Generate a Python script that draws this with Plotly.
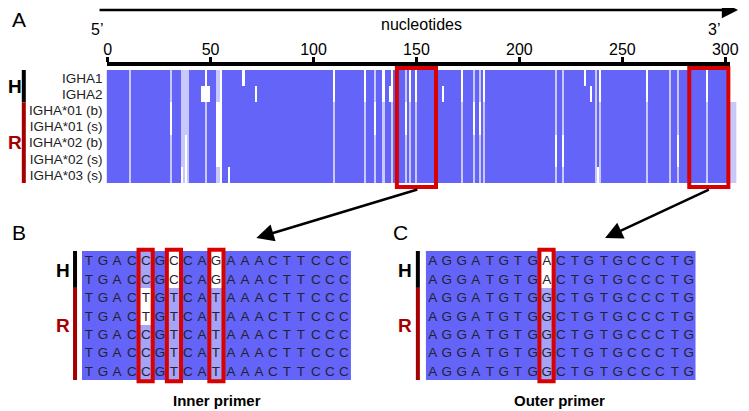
import plotly.graph_objects as go

# ---- data -----------------------------------------------------------------
seq_names = ["IGHA1", "IGHA2", "IGHA*01 (b)", "IGHA*01 (s)",
             "IGHA*02 (b)", "IGHA*02 (s)", "IGHA*03 (s)"]
groups = ["H", "H", "R", "R", "R", "R", "R"]
n_sites = 306

# variable sites: position, state per sequence (0 same, 1 partial, 2 different)
var_pos = [11, 31, 36, 37, 38, 39, 46, 47, 48, 49, 53, 54, 55, 59, 66, 72,
           110, 125, 130, 134, 137, 138, 145, 147, 150, 163, 172, 178, 181,
           183, 218, 221, 232, 235, 237, 238, 239, 262, 273, 277, 291,
           303, 304, 305]
var_state = ["1111111", "1122111", "1111112", "1111111", "1111222", "1111111",
             "0200000", "0200000", "2211111", "0200000", "1122221", "1122221",
             "2222222", "0000002", "2000000", "0200000",
             "2211111", "2211111", "1122111", "2211111", "0200000", "2211111",
             "1122111", "2211111", "2211111", "0200000", "2211111", "1122111",
             "1122111", "2211111", "1111221", "1111221", "2000000", "0200000",
             "1111111", "0000002", "2211111", "2211111", "1111111", "1111221",
             "2211111", "2211111", "2211111", "2211111"]

ruler_ticks = [0, 50, 100, 150, 200, 250, 300]

inner_start = 141
outer_start = 283
inner_seqs = ["TGACCGCCAGAAACTTCCC", "TGACCGCCAGAAACTTCCC",
              "TGACTGTCATAAACTTCCC", "TGACTGTCATAAACTTCCC",
              "TGACCGTCATAAACTTCCC", "TGACCGTCATAAACTTCCC",
              "TGACCGTCATAAACTTCCC"]
outer_seqs = ["AGGATGTGACTGTGCCCTG", "AGGATGTGACTGTGCCCTG",
              "AGGATGTGGCTGTGCCCTG", "AGGATGTGGCTGTGCCCTG",
              "AGGATGTGGCTGTGCCCTG", "AGGATGTGGCTGTGCCCTG",
              "AGGATGTGGCTGTGCCCTG"]

# ---- helpers --------------------------------------------------------------
W, H = 749, 411
OFF = 8                      # page body margin
FW, FH = W - OFF, H - OFF
NT = 2.09                    # pixels per nucleotide in panel A
A_LEFT = 105


def px(x):
    return (x - OFF) / FW


def py(y):
    return 1 - (y - OFF) / FH


def nt_px(n):
    return A_LEFT + (n + 0.5) * NT


BLUE = "#6464f9"
RED = "#d90000"
DARKRED = "#a50000"
FONT = "Arial, Liberation Sans, sans-serif"

z_a = [[0] * n_sites for _ in seq_names]
for p, s in zip(var_pos, var_state):
    for r, ch in enumerate(s):
        z_a[r][p] = int(ch)


def scale(light):
    return [[0, BLUE], [0.333, BLUE], [0.333, light], [0.667, light],
            [0.667, "white"], [1, "white"]]


def window(start, seqs):
    z = [[z_a[r][start + c] for c in range(len(seqs[0]))] for r in range(len(seqs))]
    text = [list(s) for s in seqs]
    cols = [c for c in range(len(seqs[0])) if any(z[r][c] for r in range(len(seqs)))]
    return z, text, cols


z_b, t_b, cols_b = window(inner_start, inner_seqs)
z_c, t_c, cols_c = window(outer_start, outer_seqs)

fig = go.Figure()
fig.add_trace(go.Heatmap(z=z_a, x=list(range(n_sites)), y=list(range(len(seq_names))),
                         zmin=0, zmax=2, colorscale=scale("#c8c8fa"),
                         showscale=False, hoverinfo="skip", xaxis="x", yaxis="y"))
fig.add_trace(go.Scatter(x=[ruler_ticks[0], ruler_ticks[-1]], y=[0, 0], mode="markers",
                         marker=dict(opacity=0), hoverinfo="skip", showlegend=False,
                         xaxis="x2", yaxis="y"))
for z, t, xa, ya in [(z_b, t_b, "x3", "y3"), (z_c, t_c, "x4", "y4")]:
    fig.add_trace(go.Heatmap(z=z, text=t, texttemplate="%{text}",
                             textfont=dict(size=13.5, color="#23232f", family=FONT),
                             zmin=0, zmax=2, colorscale=scale("#a4a4f8"),
                             showscale=False, hoverinfo="skip", xaxis=xa, yaxis=ya))

hidden = dict(showgrid=False, zeroline=False, showticklabels=False, ticks="")
fig.update_layout(
    width=FW, height=FH, margin=dict(l=0, r=0, t=0, b=0),
    paper_bgcolor="white", plot_bgcolor="rgba(0,0,0,0)", showlegend=False,
    font=dict(family=FONT, color="black"),
    xaxis=dict(domain=[px(A_LEFT), px(A_LEFT + n_sites * NT)], range=[-0.5, n_sites - 0.5],
               anchor="y", **hidden),
    yaxis=dict(domain=[py(183), py(70)], range=[6.5, -0.5], anchor="x",
               tickvals=list(range(len(seq_names))), ticktext=seq_names,
               showgrid=False, zeroline=False, ticks="", ticklabelstandoff=3,
               tickfont=dict(size=13.5, color="#222")),
    xaxis2=dict(domain=[px(A_LEFT), px(738)], range=[-0.5, (738 - A_LEFT) / NT - 0.5],
                anchor="free", position=py(64), side="top",
                showline=True, linewidth=4, linecolor="black", ticks="outside",
                ticklen=5, tickwidth=3, tickcolor="black", tickvals=ruler_ticks,
                ticklabelstandoff=-4,
                showgrid=False, zeroline=False, tickfont=dict(size=16)),
    xaxis3=dict(domain=[px(80), px(353)], range=[-0.5, 18.5], anchor="y3", **hidden),
    yaxis3=dict(domain=[py(380), py(251)], range=[6.5, -0.5], anchor="x3", **hidden),
    xaxis4=dict(domain=[px(429), px(703)], range=[-0.5, 18.5], anchor="y4", **hidden),
    yaxis4=dict(domain=[py(380), py(251)], range=[6.5, -0.5], anchor="x4", **hidden),
)

shapes = []
# primer boxes in panel A
for start in (inner_start, outer_start):
    shapes.append(dict(type="rect", xref="x", yref="paper", x0=start - 0.5, x1=start + 18.5,
                       y0=py(187), y1=py(68), line=dict(color=RED, width=4)))
# variant column boxes in panels B and C
for cols, xa, ya in [(cols_b, "x3", "y3"), (cols_c, "x4", "y4")]:
    for c in cols:
        shapes.append(dict(type="rect", xref=xa, yref=ya + " domain", x0=c - 0.5, x1=c + 0.5,
                           y0=-0.01, y1=1.01, line=dict(color=RED, width=4)))
# H / R group bars
n_h = groups.count("H")
for ya, xbar in [("y", 21), ("y3", 73), ("y4", 421)]:
    shapes.append(dict(type="line", xref="paper", yref=ya, x0=px(xbar), x1=px(xbar),
                       y0=-0.5, y1=n_h - 0.5, line=dict(color="black", width=4)))
    shapes.append(dict(type="line", xref="paper", yref=ya, x0=px(xbar), x1=px(xbar),
                       y0=n_h - 0.5, y1=len(groups) - 0.5, line=dict(color=DARKRED, width=4)))
fig.update_layout(shapes=shapes)

ann = []


def label(x, y, text, size, bold=False, color="black"):
    ann.append(dict(x=px(x), y=py(y), xref="paper", yref="paper", showarrow=False,
                    text=f"<b>{text}</b>" if bold else text,
                    font=dict(size=size, color=color), xanchor="center", yanchor="middle"))


def arrow(x0, y0, x1, y1, width, size):
    # tail (x0, y0) -> head (x1, y1), page pixel coordinates
    ann.append(dict(x=px(x1), y=py(y1), xref="paper", yref="paper",
                    axref="pixel", ayref="pixel", ax=x0 - x1, ay=y0 - y1, text="",
                    showarrow=True, arrowhead=2, arrowsize=size, arrowwidth=width,
                    arrowcolor="black"))


label(16, 20, "A", 21)
label(16, 232, "B", 21)
label(403, 232, "C", 21)
label(95, 29, "5\u2019", 16)
label(722, 29, "3\u2019", 16)
label(425, 25, "nucleotides", 16)
for x, yh, yr in [(12, 87, 143), (61, 270, 325), (408, 270, 325)]:
    label(x, yh, "H", 19, bold=True)
    label(x, yr, "R", 19, bold=True, color=DARKRED)
label(217, 400, "Inner primer", 15, bold=True)
label(565, 400, "Outer primer", 15, bold=True)

arrow(106, 10, 746, 10, 2.5, 1.3)
for start, hx in [(inner_start, 257), (outer_start, 611)]:
    arrow(nt_px(start + 9), 189, hx, 238, 2.5, 1.4)
fig.update_layout(annotations=ann)

fig.write_html("out.html")
